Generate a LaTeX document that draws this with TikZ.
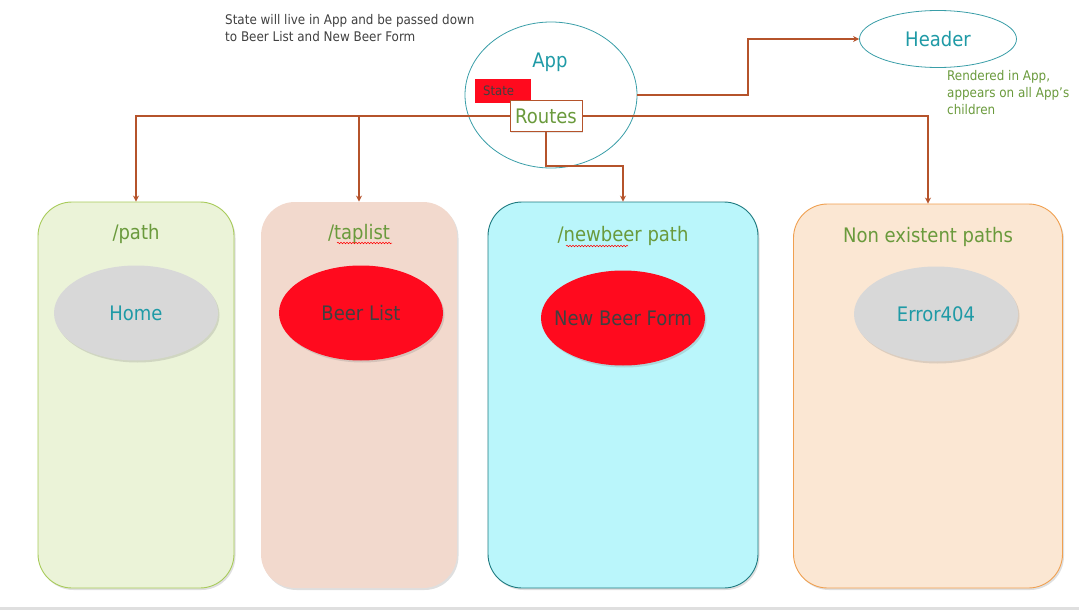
\documentclass[tikz,border=0pt]{standalone}
\usepackage{fontspec}
\setmainfont{DejaVu Sans Condensed}
\usetikzlibrary{arrows.meta,shadows,shapes.geometric,decorations.pathmorphing}
\definecolor{tealc}{HTML}{1F9AA6}
\definecolor{tealline}{HTML}{3A9EA8}
\definecolor{greenc}{HTML}{6A9A3C}
\definecolor{brownc}{HTML}{B5532B}
\definecolor{redc}{HTML}{FF0A1E}
\definecolor{darkc}{HTML}{404040}
\definecolor{greyc}{HTML}{D8D8D8}
\definecolor{fillA}{HTML}{EBF3D8}
\definecolor{lineA}{HTML}{A8CB5A}
\definecolor{fillB}{HTML}{F2D9CD}
\definecolor{fillC}{HTML}{BAF6FB}
\definecolor{lineC}{HTML}{1E7A80}
\definecolor{fillD}{HTML}{FBE7D3}
\definecolor{lineD}{HTML}{F0A050}
\begin{document}
\begin{tikzpicture}[x=1pt,y=-1pt,
  pathbox/.style={rectangle, rounded corners=34pt, line width=0.9pt, inner sep=0pt,
     drop shadow={shadow xshift=1.5pt, shadow yshift=-2pt, opacity=0.25}},
  comp/.style={ellipse, inner sep=0pt, minimum width=164pt, minimum height=95pt,
     drop shadow={shadow xshift=1.5pt, shadow yshift=-2pt, opacity=0.25}},
  comptext/.style={font=\fontsize{20}{24}\selectfont, inner sep=0pt},
  title/.style={text=greenc, font=\fontsize{20}{24}\selectfont},
  conn/.style={draw=brownc, line width=2pt},
  arr/.style={conn, -{Stealth[length=6pt,width=6pt]}},
  note/.style={font=\fontsize{13.3}{17}\selectfont, align=left, anchor=north west, inner sep=0pt},
  squig/.style={draw=red, line width=0.5pt, decorate, decoration={snake, amplitude=0.8pt, segment length=3pt}}
]
\useasboundingbox (0,0) rectangle (1079,610);
\fill[gray!25] (0,607) rectangle (1079,610);

% path boxes
\node[pathbox, fill=fillA, draw=lineA, minimum width=196pt, minimum height=386pt] (b1) at (136,395) {};
\node[pathbox, fill=fillB, draw=none, minimum width=196pt, minimum height=386pt] (b2) at (359,395) {};
\node[pathbox, fill=fillC, draw=lineC, minimum width=270pt, minimum height=386pt] (b3) at (623,395) {};
\node[pathbox, fill=fillD, draw=lineD, minimum width=269pt, minimum height=384pt] (b4) at (928,396) {};

% titles
\node[title] (t1) at (136,234) {/path};
\node[title] (t2) at (359,234) {/taplist};
\node[title] (t3) at (623,236) {/newbeer path};
\node[title] (t4) at (928,237) {Non existent paths};
\draw[squig] (337,243) -- (392,243);
\draw[squig] (566,246) -- (628,246);

% components
\node[comp, fill=greyc] (home) at (136,313) {};
\node[comptext, text=tealc] (homelbl) at (home.center) {Home};
\node[comp, fill=redc] (beer) at (361,313) {};
\node[comptext, text=darkc] (beerlbl) at (beer.center) {Beer List};
\node[comp, fill=redc] (form) at (623,318) {};
\node[comptext, text=darkc] (formlbl) at (form.center) {New Beer Form};
\node[comp, fill=greyc] (err) at (936,314) {};
\node[comptext, text=tealc] (errlbl) at (err.center) {Error404};

% App
\node[ellipse, draw=tealline, line width=0.8pt, minimum width=172pt, minimum height=146pt, inner sep=0pt] (app) at (551,95) {};
\node[text=tealc, font=\fontsize{20}{24}\selectfont] (applbl) at (550,62) {App};
\node[rectangle, fill=redc, minimum width=56pt, minimum height=24pt, inner sep=0pt] (state) at (503,91) {};
\node[text=darkc, font=\fontsize{13}{15}\selectfont, anchor=west, inner sep=0pt] (statelbl) at (483,91) {State};

% Header
\node[ellipse, draw=tealline, line width=0.8pt, fill=white, minimum width=157pt, minimum height=57pt, inner sep=0pt, text=tealc, font=\fontsize{20}{24}\selectfont] (header) at (938,39) {Header};
\node[note, text=greenc] (hnote) at (947,70) {Rendered in App,\\appears on all App’s\\children};

% top note
\node[note, text=darkc] (tnote) at (225,14) {State will live in App and be passed down\\to Beer List and New Beer Form};

% connectors (drawn before Routes box so it covers them)
\draw[arr] (546,116) -| (b1.north);
\draw[arr] (546,116) -| (b2.north);
\draw[arr] (546,116) -| (b4.north);
\draw[arr] (546,116) -- ++(0,50) -| (b3.north);
\draw[arr] (app.east) -- ++(111,0) |- (header.west);

% Routes
\node[rectangle, draw=brownc, fill=white, line width=0.9pt, minimum width=72pt, minimum height=31pt, inner sep=0pt, text=greenc, font=\fontsize{20}{24}\selectfont,
   drop shadow={shadow xshift=1pt, shadow yshift=-1.5pt, opacity=0.2}] (routes) at (546,116) {Routes};
\end{tikzpicture}
\end{document}
